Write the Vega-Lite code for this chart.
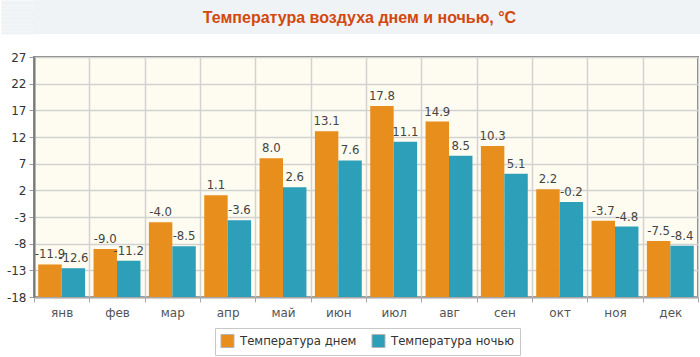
{
  "$schema": "https://vega.github.io/schema/vega-lite/v6.json",
  "padding": 0,
  "background": "white",
  "spacing": 16,
  "columns": 1,
  "align": "none",
  "config": {
    "font": "DejaVu Sans",
    "locale": {"number": {"decimal": ".", "thousands": ",", "grouping": [3], "currency": ["$", ""], "minus": "-"}}
  },
  "concat": [
    {
      "width": 667,
      "height": 34,
      "data": {"values": [{"t": "Температура воздуха днем и ночью, °C"}]},
      "view": {"fill": "#f0f3f5", "stroke": null},
      "mark": {"type": "text", "font": "Liberation Sans", "fontWeight": "bold", "fontSize": 16, "color": "#d2480e", "baseline": "middle", "align": "center", "dx": -8, "dy": 1},
      "encoding": {
        "text": {"field": "t", "type": "nominal"},
        "y": {"datum": 0, "type": "quantitative", "scale": {"domain": [-1, 1]}, "axis": {"values": [-0.94, -0.86, -0.78, -0.7, -0.62, -0.54, -0.46, -0.38, -0.3, -0.22, -0.14, -0.06, 0.02, 0.1, 0.18, 0.26, 0.34, 0.42, 0.5, 0.58, 0.66, 0.74, 0.82, 0.9, 0.94], "title": null, "labels": false, "domain": false, "grid": false, "ticks": true, "tickSize": 33, "tickWidth": 2, "tickColor": "#f0f3f5", "minExtent": 33, "maxExtent": 33}}
      }
    },
    {
      "width": 664,
      "height": 240,
      "view": {"fill": "#fefcf0", "stroke": "#7f7f7f", "strokeWidth": 2},
      "data": {"values": [
        {"m": "янв", "s": "Температура днем", "v": -11.9},
        {"m": "фев", "s": "Температура днем", "v": -9.0},
        {"m": "мар", "s": "Температура днем", "v": -4.0},
        {"m": "апр", "s": "Температура днем", "v": 1.1},
        {"m": "май", "s": "Температура днем", "v": 8.0},
        {"m": "июн", "s": "Температура днем", "v": 13.1},
        {"m": "июл", "s": "Температура днем", "v": 17.8},
        {"m": "авг", "s": "Температура днем", "v": 14.9},
        {"m": "сен", "s": "Температура днем", "v": 10.3},
        {"m": "окт", "s": "Температура днем", "v": 2.2},
        {"m": "ноя", "s": "Температура днем", "v": -3.7},
        {"m": "дек", "s": "Температура днем", "v": -7.5},
        {"m": "янв", "s": "Температура ночью", "v": -12.6},
        {"m": "фев", "s": "Температура ночью", "v": -11.2},
        {"m": "мар", "s": "Температура ночью", "v": -8.5},
        {"m": "апр", "s": "Температура ночью", "v": -3.6},
        {"m": "май", "s": "Температура ночью", "v": 2.6},
        {"m": "июн", "s": "Температура ночью", "v": 7.6},
        {"m": "июл", "s": "Температура ночью", "v": 11.1},
        {"m": "авг", "s": "Температура ночью", "v": 8.5},
        {"m": "сен", "s": "Температура ночью", "v": 5.1},
        {"m": "окт", "s": "Температура ночью", "v": -0.2},
        {"m": "ноя", "s": "Температура ночью", "v": -4.8},
        {"m": "дек", "s": "Температура ночью", "v": -8.4}
      ]},
      "encoding": {
        "x": {
          "field": "m", "type": "nominal", "title": null,
          "sort": ["янв", "фев", "мар", "апр", "май", "июн", "июл", "авг", "сен", "окт", "ноя", "дек"],
          "scale": {"paddingInner": 0, "paddingOuter": 0},
          "axis": {"tickBand": "extent", "grid": true, "gridColor": "#d2d2d2", "gridWidth": 1.5, "domainColor": "#a8a8a8", "domainWidth": 2, "tickColor": "#a8a8a8", "tickSize": 5, "labelAngle": 0, "labelFont": "DejaVu Sans", "labelFontSize": 12, "labelColor": "#555555", "labelPadding": 5}
        },
        "xOffset": {"field": "s", "type": "nominal", "sort": ["Температура днем", "Температура ночью"], "scale": {"paddingInner": 0, "paddingOuter": 0.18}},
        "y": {
          "field": "v", "type": "quantitative", "title": null,
          "scale": {"domain": [-18, 27], "nice": false, "zero": false},
          "axis": {"values": [-18, -13, -8, -3, 2, 7, 12, 17, 22, 27], "grid": true, "gridColor": "#d2d2d2", "gridWidth": 1.5, "domainColor": "#7a7a7a", "domainWidth": 2, "tickColor": "#999999", "tickSize": 5, "labelFont": "DejaVu Sans", "labelFontSize": 12, "labelColor": "#333333", "labelPadding": 3, "minExtent": 33, "maxExtent": 33}
        }
      },
      "layer": [
        {
          "mark": {"type": "bar"},
          "encoding": {
            "y2": {"datum": -18},
            "color": {
              "field": "s", "type": "nominal",
              "scale": {"domain": ["Температура днем", "Температура ночью"], "range": ["#e88e1c", "#2d9fb8"]},
              "legend": {"orient": "none", "legendX": 181, "legendY": 328, "direction": "horizontal", "title": null, "strokeColor": "#c8c8c8", "padding": 5, "symbolType": "square", "symbolSize": 170, "symbolStrokeColor": "#b5b5b5", "symbolStrokeWidth": 1, "labelFont": "DejaVu Sans Condensed", "labelFontSize": 13, "labelColor": "#333333", "columnPadding": 12, "labelOffset": 5}
            }
          }
        },
        {
          "mark": {"type": "text", "baseline": "bottom", "dy": -3, "fontSize": 13, "font": "DejaVu Sans Condensed", "color": "#444444"},
          "encoding": {"text": {"field": "v", "type": "quantitative", "format": ".1f"}}
        }
      ]
    }
  ]
}
